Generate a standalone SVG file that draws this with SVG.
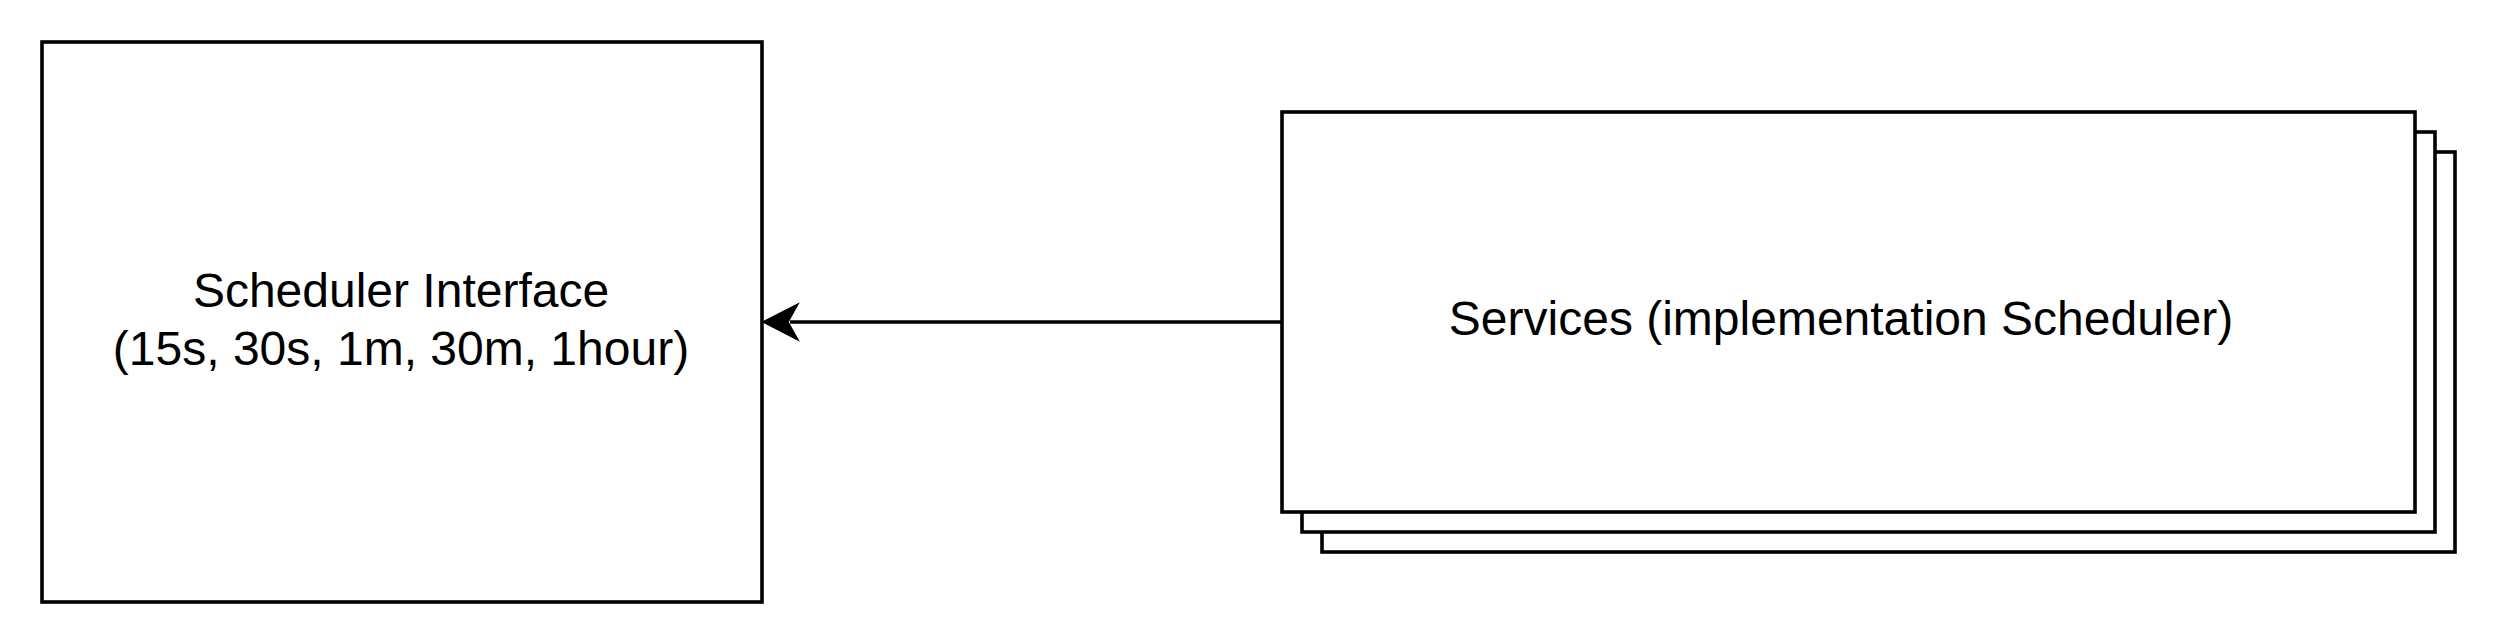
<svg xmlns="http://www.w3.org/2000/svg" width="2500" height="644" viewBox="0 0 2500 644">
<style>
.box{fill:#ffffff;stroke:#000000;stroke-width:3.6}
.lbl{font-family:"Liberation Sans",Arial,Helvetica,sans-serif;font-size:48px;fill:#000000;text-anchor:middle}
.edge{fill:none;stroke:#000000;stroke-width:3.6}
</style>
<rect width="2500" height="644" fill="#ffffff"/>
<g id="scheduler-interface">
<rect class="box" x="42" y="42" width="720" height="560"/>
<text class="lbl" x="401" y="307">Scheduler Interface</text>
<text class="lbl" x="401" y="365">(15s, 30s, 1m, 30m, 1hour)</text>
</g>
<g id="services">
<rect class="box" x="1322" y="152" width="1133" height="400"/>
<rect class="box" x="1302" y="132" width="1133" height="400"/>
<rect class="box" x="1282" y="112" width="1133" height="400"/>
<text class="lbl" x="1841" y="335">Services (implementation Scheduler)</text>
</g>
<g id="connectors">
<path class="edge" d="M1282,322 L790,322"/>
<path d="M763,322 L798,304 L788,322 L798,340 Z" fill="#000000" stroke="#000000" stroke-width="1.5"/>
</g>
</svg>
